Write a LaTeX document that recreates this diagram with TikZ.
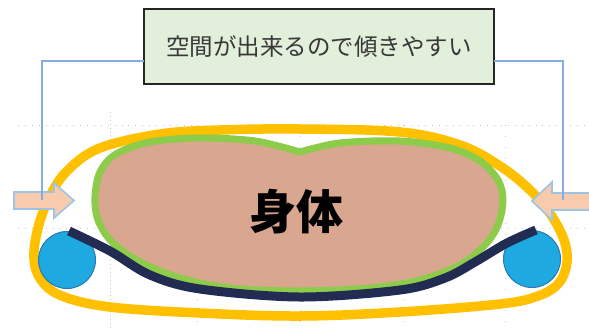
\documentclass[tikz,border=0pt]{standalone}
\usepackage{fontspec}
\newfontfamily\jp{Noto Sans CJK JP}
\definecolor{bandyellow}{HTML}{FFC000}
\definecolor{bodygreen}{HTML}{8DCB4A}
\definecolor{bodyfill}{HTML}{D9A690}
\definecolor{mattress}{HTML}{222B52}
\definecolor{rollfill}{HTML}{1FA9E1}
\definecolor{rolledge}{HTML}{2B79B0}
\definecolor{pushfill}{HTML}{F8CBAD}
\definecolor{pushedge}{HTML}{9DC3E6}
\definecolor{labelfill}{HTML}{E2EFDA}
\definecolor{leader}{HTML}{86AEDD}
\definecolor{gridgray}{HTML}{C8C8C8}
\tikzset{
  gridline/.style={gridgray, line width=0.9pt, dash pattern=on 0.9pt off 6pt},
  labelbox/.style={draw=black!85, line width=1.8pt, fill=labelfill,
    minimum width=350pt, minimum height=75pt, inner sep=0pt,
    font=\jp\fontsize{23.5pt}{26pt}\selectfont, text=black!78},
  leaderline/.style={leader, line width=1.4pt},
  pusharrow/.style={fill=pushfill, draw=pushedge, line width=1.6pt, line join=miter},
  roll/.style={circle, fill=rollfill, draw=rolledge, line width=1pt, minimum size=57pt, inner sep=0pt},
  outerband/.style={bandyellow, line width=9.5pt},
  bodyshape/.style={fill=bodyfill, draw=bodygreen, line width=7pt, line join=miter},
  mat/.style={mattress, line width=9pt, line cap=butt},
  bodytext/.style={font=\jp\bfseries\fontsize{47pt}{50pt}\selectfont, text=black}
}
\begin{document}
\begin{tikzpicture}[x=1pt, y=-1pt]
\useasboundingbox (0,0) rectangle (589,327);
\fill[white] (0,0) rectangle (589,327);

% faint background grid
\draw[gridline] (18,125) -- (589,125);
\draw[gridline] (18,228) -- (589,228);
\draw[gridgray, line width=0.9pt, dash pattern=on 0.9pt off 3pt] (110,112) -- (110,327);
\foreach \gx in {197,300,403,505}
  \draw[gridline, dash pattern=on 0.9pt off 10pt] (\gx,125) -- (\gx,327);

% outer band around everything
\draw[outerband] plot[smooth cycle, tension=0.6] coordinates {
  (300,129) (400,132) (460,145) (500,166) (530,190) (551,215) (564,240)
  (567,262) (559,283) (538,296) (500,304) (400,312) (300,316) (200,313)
  (110,307) (62,296) (41,280) (34,258) (38,228) (50,196) (68,170)
  (100,148) (160,134) (220,130)};

% body, with a notch at the top
\draw[bodyshape] plot[smooth, tension=0.55] coordinates {
  (300,152) (340,143) (400,141) (450,148) (480,161) (498,180) (503,200)
  (498,225) (485,245) (460,265) (420,280) (370,288) (300,291) (230,288)
  (180,278) (140,262) (112,242) (98,220) (95,197) (100,172) (116,154)
  (150,142) (200,138) (255,141) (300,152)} -- cycle;
\node[bodytext] (body) at (296,212) {身体};

% rolls
\node[roll] (lroll) at (67,260) {};
\node[roll] (rroll) at (532,259) {};

% mattress line
\draw[mat] plot[smooth, tension=0.55] coordinates {
  (69,231) (110,251) (150,275) (200,289) (300,297) (400,290) (445,278)
  (475,262) (507,243) (536,230)};

% pushing arrows
\draw[pusharrow] (14,192) -- (54,192) -- (54,183) -- (74,200.5) -- (54,218)
  -- (54,209) -- (14,209) -- cycle;
\draw[pusharrow] (595,193) -- (552,193) -- (552,182) -- (532,201) -- (552,220)
  -- (552,210) -- (595,210);
\coordinate (larrow) at (42,200);
\coordinate (rarrow) at (563,200);

% label and leader lines
\node[labelbox] (label) at (319,46.5) {空間が出来るので傾きやすい};
\coordinate (ljoin) at (144,61);
\coordinate (rjoin) at (494,61);
\draw[leaderline] (ljoin) -| (larrow);
\draw[leaderline] (rjoin) -| (rarrow);
\end{tikzpicture}
\end{document}
